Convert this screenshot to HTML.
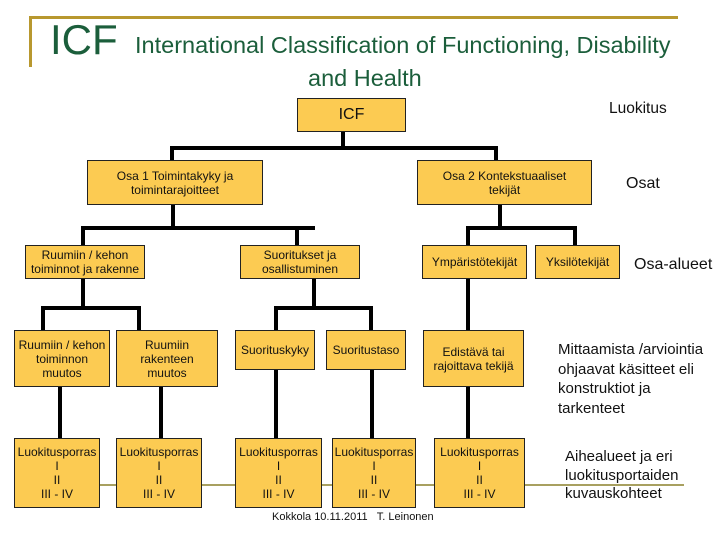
<!DOCTYPE html>
<html><head><meta charset="utf-8"><style>
body{margin:0;width:720px;height:540px;background:#fff;position:relative;overflow:hidden;font-family:"Liberation Sans",sans-serif}
.b{position:absolute;background:#FCCB52;border:1px solid #222;box-sizing:border-box;display:flex;align-items:center;justify-content:center;text-align:center;font-size:12px;line-height:14px;color:#111}
.l{position:absolute;background:#000}
.t{position:absolute;color:#111;white-space:nowrap}
</style></head><body>
<div style="position:absolute;left:30px;top:16px;width:648px;height:3px;background:#B8982F"></div>
<div style="position:absolute;left:29px;top:16px;width:3px;height:51px;background:#B8982F"></div>
<div class="t" style="left:50px;top:16px;font-size:42px;color:#1B5E3B;line-height:48px">ICF</div>
<div class="t" style="left:135px;top:32px;font-size:23.5px;color:#1B5E3B">International Classification of Functioning, Disability</div>
<div class="t" style="left:308px;top:65px;font-size:23.5px;color:#1B5E3B">and Health</div>

<!-- connectors -->
<div class="l" style="left:341px;top:132px;width:4px;height:18px"></div>
<div class="l" style="left:170px;top:146px;width:328px;height:4px"></div>
<div class="l" style="left:170px;top:146px;width:4px;height:14px"></div>
<div class="l" style="left:494px;top:146px;width:4px;height:14px"></div>

<div class="l" style="left:171px;top:205px;width:4px;height:24px"></div>
<div class="l" style="left:81px;top:226px;width:234px;height:4px"></div>
<div class="l" style="left:81px;top:226px;width:4px;height:19px"></div>
<div class="l" style="left:295px;top:226px;width:4px;height:19px"></div>

<div class="l" style="left:498px;top:205px;width:4px;height:24px"></div>
<div class="l" style="left:466px;top:226px;width:111px;height:4px"></div>
<div class="l" style="left:466px;top:226px;width:4px;height:19px"></div>
<div class="l" style="left:573px;top:226px;width:4px;height:19px"></div>

<div class="l" style="left:81px;top:279px;width:4px;height:30px"></div>
<div class="l" style="left:41px;top:306px;width:100px;height:4px"></div>
<div class="l" style="left:41px;top:306px;width:4px;height:24px"></div>
<div class="l" style="left:137px;top:306px;width:4px;height:24px"></div>

<div class="l" style="left:312px;top:279px;width:4px;height:30px"></div>
<div class="l" style="left:274px;top:306px;width:99px;height:4px"></div>
<div class="l" style="left:274px;top:306px;width:4px;height:24px"></div>
<div class="l" style="left:369px;top:306px;width:4px;height:24px"></div>

<div class="l" style="left:466px;top:279px;width:4px;height:51px"></div>

<div class="l" style="left:58px;top:387px;width:4px;height:51px"></div>
<div class="l" style="left:159px;top:387px;width:4px;height:51px"></div>
<div class="l" style="left:274px;top:370px;width:4px;height:68px"></div>
<div class="l" style="left:370px;top:370px;width:4px;height:68px"></div>
<div class="l" style="left:466px;top:387px;width:4px;height:51px"></div>

<div style="position:absolute;left:14px;top:484px;width:670px;height:2px;background:#A8A060"></div>

<!-- boxes -->
<div class="b" style="left:297px;top:98px;width:109px;height:34px;font-size:16px">ICF</div>
<div class="b" style="left:87px;top:160px;width:176px;height:45px">Osa 1 Toimintakyky ja<br>toimintarajoitteet</div>
<div class="b" style="left:417px;top:160px;width:175px;height:45px">Osa 2 Kontekstuaaliset<br>tekijät</div>
<div class="b" style="left:25px;top:245px;width:120px;height:34px">Ruumiin / kehon<br>toiminnot ja rakenne</div>
<div class="b" style="left:240px;top:245px;width:120px;height:34px">Suoritukset ja<br>osallistuminen</div>
<div class="b" style="left:422px;top:245px;width:105px;height:34px">Ympäristötekijät</div>
<div class="b" style="left:535px;top:245px;width:85px;height:34px">Yksilötekijät</div>

<div class="b" style="left:14px;top:330px;width:96px;height:57px">Ruumiin / kehon<br>toiminnon<br>muutos</div>
<div class="b" style="left:116px;top:330px;width:102px;height:57px">Ruumiin<br>rakenteen<br>muutos</div>
<div class="b" style="left:235px;top:330px;width:80px;height:40px">Suorituskyky</div>
<div class="b" style="left:326px;top:330px;width:80px;height:40px">Suoritustaso</div>
<div class="b" style="left:423px;top:330px;width:101px;height:57px">Edistävä tai<br>rajoittava tekijä</div>

<div class="b" style="left:14px;top:438px;width:86px;height:70px">Luokitusporras<br>I<br>II<br>III - IV</div>
<div class="b" style="left:116px;top:438px;width:86px;height:70px">Luokitusporras<br>I<br>II<br>III - IV</div>
<div class="b" style="left:235px;top:438px;width:87px;height:70px">Luokitusporras<br>I<br>II<br>III - IV</div>
<div class="b" style="left:332px;top:438px;width:84px;height:70px">Luokitusporras<br>I<br>II<br>III - IV</div>
<div class="b" style="left:434px;top:438px;width:91px;height:70px">Luokitusporras<br>I<br>II<br>III - IV</div>

<div class="t" style="left:609px;top:100px;font-size:15.5px">Luokitus</div>
<div class="t" style="left:626px;top:175px;font-size:16px">Osat</div>
<div class="t" style="left:634px;top:256px;font-size:16px">Osa-alueet</div>
<div class="t" style="left:558px;top:340px;font-size:15px;line-height:19.5px">Mittaamista /arviointia<br>ohjaavat käsitteet eli<br>konstruktiot ja<br>tarkenteet</div>
<div class="t" style="left:565px;top:448px;font-size:15px;line-height:18.5px">Aihealueet ja eri<br>luokitusportaiden<br>kuvauskohteet</div>
<div class="t" style="left:272px;top:511px;font-size:11px">Kokkola 10.11.2011&nbsp;&nbsp;&nbsp;T. Leinonen</div>
</body></html>
